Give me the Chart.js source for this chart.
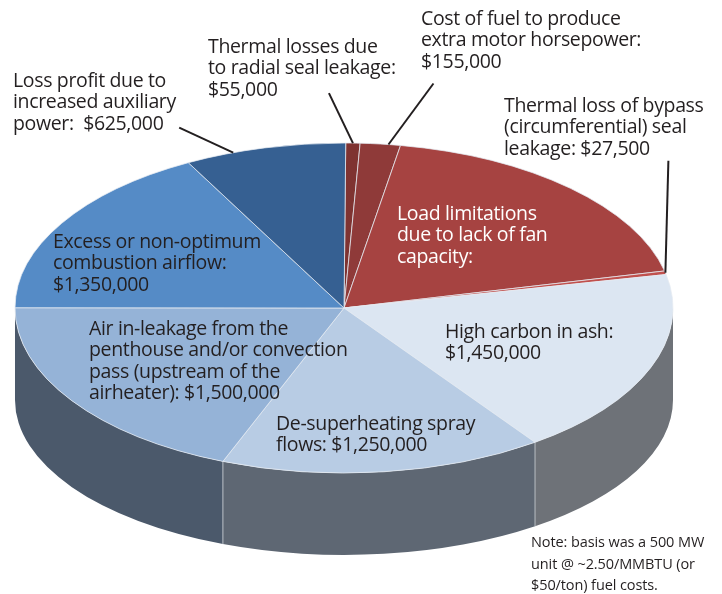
<!DOCTYPE html>
<html>
<head>
<meta charset="utf-8">
<style>
  html, body { margin: 0; padding: 0; background: #fff; }
  #wrap { position: relative; width: 722px; height: 594px; }
</style>
<script src="https://cdn.jsdelivr.net/npm/chart.js@4"></script>
</head>
<body>
<div id="wrap"><canvas id="pie" width="722" height="594"></canvas></div>
<script>
// ===== DATA =====
const categories = [
    'Thermal losses due to radial seal leakage',
    'Cost of fuel to produce extra motor horsepower',
    'Load limitations due to lack of fan capacity',
    'Thermal loss of bypass (circumferential) seal leakage',
    'High carbon in ash',
    'De-superheating spray flows',
    'Air in-leakage from the penthouse and/or convection pass',
    'Excess or non-optimum combustion airflow',
    'Loss profit due to increased auxiliary power'
];
// the load limitations slice has no printed value, estimated from its angle
const costs = [55000, 155000, 1470000, 27500, 1450000, 1250000, 1500000, 1350000, 625000];

const sliceColors = ['#7f3331', '#8f3a39', '#a64341', '#c0504d', '#dce6f2', '#b8cce4', '#95b3d7', '#558bc6', '#366092'];
const wallColors  = ['#5a2423', '#652928', '#752f2e', '#873836', '#6e7278', '#5e6773', '#4b596b', '#3c5a80', '#264367'];

const labelLines = [
    ['Thermal losses due', 'to radial seal leakage:', '$55,000'],
    ['Cost of fuel to produce', 'extra motor horsepower:', '$155,000'],
    ['Load limitations', 'due to lack of fan', 'capacity:'],
    ['Thermal loss of bypass', '(circumferential) seal', 'leakage: $27,500'],
    ['High carbon in ash:', '$1,450,000'],
    ['De-superheating spray', 'flows: $1,250,000'],
    ['Air in-leakage from the', 'penthouse and/or convection', 'pass (upstream of the', 'airheater): $1,500,000'],
    ['Excess or non-optimum', 'combustion airflow:', '$1,350,000'],
    ['Loss profit due to', 'increased auxiliary', 'power:  $625,000']
];
const noteLines = ['Note: basis was a 500 MW', 'unit @ ~2.50/MMBTU (or', '$50/ton) fuel costs.'];

// ===== LAYOUT =====
const SQUASH = 165 / 329;
const BOTTOM_SQUASH = 155 / 329;
const DROP = 92;
const TEXT_FONT = '19.5px "Open Sans", sans-serif';
const NOTE_FONT = '14.5px "Open Sans", sans-serif';
const TEXT_COLOR = '#231f20';

const labelPos = [
    [208, 53], [421, 25], [397, 220], [504, 112], [445, 338],
    [276, 430], [89, 335], [53, 248], [13, 87]
];
const labelColor = [TEXT_COLOR, TEXT_COLOR, '#ffffff', TEXT_COLOR, TEXT_COLOR, TEXT_COLOR, TEXT_COLOR, TEXT_COLOR, TEXT_COLOR];

// leader lines: slice index, where along the slice rim, offset of the far end
const leaders = [
    { slice: 0, along: 0.5, dx: -24, dy: -50 },
    { slice: 1, along: 0.7, dx: 45, dy: -61 },
    { slice: 3, along: 0.5, dx: 3, dy: -112 },
    { slice: 8, along: 0.3, dx: -54, dy: -25 }
];

// Dibuja la pared lateral antes de aplastar el pastel
const pieWall = {
    id: 'pieWall',
    beforeDatasetsDraw(chart) {
        const ctx = chart.ctx;
        const arcs = chart.getDatasetMeta(0).data;
        const cx = arcs[0].x, cy = arcs[0].y;
        const rx = arcs[0].outerRadius, ry = rx * SQUASH, ryBottom = rx * BOTTOM_SQUASH;

        ctx.save();
        arcs.forEach((arc, i) => {
            const s = Math.max(arc.startAngle, 0);
            const e = Math.min(arc.endAngle, Math.PI);
            if (e <= s) return;
            ctx.beginPath();
            ctx.ellipse(cx, cy, rx, ry, 0, s, e);
            ctx.ellipse(cx, cy + DROP, rx, ryBottom, 0, e, s, true);
            ctx.closePath();
            ctx.fillStyle = wallColors[i];
            ctx.fill();
        });
        // separadores claros entre tramos de la pared
        arcs.forEach(arc => {
            const a = arc.startAngle;
            if (a <= 0 || a >= Math.PI) return;
            const x = cx + rx * Math.cos(a);
            ctx.beginPath();
            ctx.moveTo(x, cy + ry * Math.sin(a));
            ctx.lineTo(x, cy + DROP + ryBottom * Math.sin(a));
            ctx.strokeStyle = '#b9bec4';
            ctx.lineWidth = 1;
            ctx.stroke();
        });
        ctx.restore();

        ctx.save();
        ctx.translate(cx, cy);
        ctx.scale(1, SQUASH);
        ctx.translate(-cx, -cy);
    },
    afterDatasetsDraw(chart) {
        chart.ctx.restore();
    }
};

// Líneas guía y textos
const pieLabels = {
    id: 'pieLabels',
    afterDraw(chart) {
        const ctx = chart.ctx;
        const arcs = chart.getDatasetMeta(0).data;

        ctx.save();
        ctx.strokeStyle = TEXT_COLOR;
        ctx.lineWidth = 2;
        leaders.forEach(l => {
            const arc = arcs[l.slice];
            const a = arc.startAngle + (arc.endAngle - arc.startAngle) * l.along;
            const x = arc.x + arc.outerRadius * Math.cos(a);
            const y = arc.y + arc.outerRadius * SQUASH * Math.sin(a);
            ctx.beginPath();
            ctx.moveTo(x, y);
            ctx.lineTo(x + l.dx, y + l.dy);
            ctx.stroke();
        });

        ctx.textAlign = 'left';
        ctx.textBaseline = 'alphabetic';
        ctx.font = TEXT_FONT;
        ctx.letterSpacing = '-0.35px';
        labelLines.forEach((lines, i) => {
            ctx.fillStyle = labelColor[i];
            lines.forEach((txt, j) => ctx.fillText(txt, labelPos[i][0], labelPos[i][1] + j * 21.4));
        });
        ctx.font = NOTE_FONT;
        ctx.letterSpacing = '-0.1px';
        ctx.fillStyle = TEXT_COLOR;
        noteLines.forEach((txt, j) => ctx.fillText(txt, 531, 547 + j * 21.5));
        ctx.restore();
    }
};

new Chart(document.getElementById('pie'), {
    type: 'pie',
    data: {
        labels: categories,
        datasets: [{
            data: costs,
            backgroundColor: sliceColors,
            borderColor: '#e6ebf2',
            borderWidth: 1,
            radius: 329,
            rotation: 0.3,
            clip: false
        }]
    },
    options: {
        responsive: false,
        animation: false,
        layout: { padding: { top: 22, right: 34 } },
        plugins: { legend: { display: false }, tooltip: { enabled: false } }
    },
    plugins: [pieWall, pieLabels]
});
</script>
</body>
</html>
